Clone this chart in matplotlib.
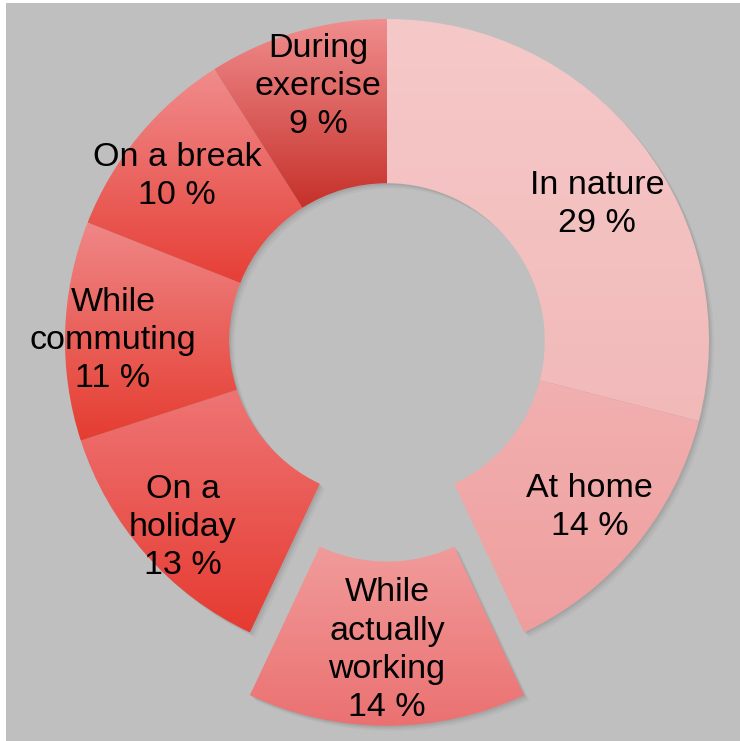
import numpy as np
import matplotlib
matplotlib.use('Agg')
import matplotlib.pyplot as plt
from matplotlib.colors import LinearSegmentedColormap
from matplotlib.patches import Wedge

labels = ['In nature', 'At home', 'While\nactually\nworking', 'On a\nholiday',
          'While\ncommuting', 'On a break', 'During\nexercise']
values = [29, 14, 14, 13, 11, 10, 9]
explode = [0, 0, 0.195, 0, 0, 0, 0]
# (top colour, bottom colour) of each slice's vertical gradient
top_colors = ['#f6c9c9', '#f2b0b0', '#f19b9b', '#ee7575', '#ef8787', '#f08c8c', '#f08e8e']
bottom_colors = ['#f2b9b9', '#ef9e9e', '#eb7171', '#e63a30', '#e53c30', '#e63f36', '#c6302a']
# label centre relative to each slice's centre, in units of the radius
label_dx = [0.652, 0.630, 0.0, -0.634, -0.851, -0.652, -0.214]
label_dy = [0.423, -0.518, -0.765, -0.580, 0.002, 0.510, 0.790]

plt.rcParams['font.family'] = ['Liberation Sans', 'DejaVu Sans']

fig = plt.figure(figsize=(7.40, 7.41), dpi=100, facecolor='white')
ax = fig.add_axes([6 / 740, 0, 734 / 740, 738 / 741])

hole = 0.49
wedges, _ = ax.pie(values, radius=1, startangle=90, counterclock=False,
                   explode=explode, wedgeprops=dict(width=1 - hole, linewidth=0))

ax.set_frame_on(True)
ax.set_facecolor('#bfbfbf')
for s in ax.spines.values():
    s.set_visible(False)

grad = np.linspace(0, 1, 256).reshape(-1, 1)
for i, w in enumerate(wedges):
    # soft drop shadow
    for k, a in [(0.016, 0.08), (0.010, 0.12), (0.005, 0.15)]:
        sh = Wedge((w.center[0] + k, w.center[1] - k), w.r, w.theta1, w.theta2,
                   width=w.width, facecolor='#707070', alpha=a, linewidth=0, zorder=1)
        ax.add_patch(sh)
    w.set_facecolor('none')
    w.set_zorder(2)
    ext = w.get_path().get_extents(w.get_patch_transform())
    cmap = LinearSegmentedColormap.from_list(f'g{i}', [top_colors[i], bottom_colors[i]])
    im = ax.imshow(grad, cmap=cmap, aspect='auto', origin='upper',
                   extent=[ext.x0, ext.x1, ext.y0, ext.y1], zorder=2,
                   interpolation='bilinear')
    im.set_clip_path(w)
    cx, cy = w.center
    ax.text(cx + label_dx[i], cy + label_dy[i],
            f'{labels[i]}\n{values[i]} %', ha='center', va='center',
            fontsize=24.5, linespacing=1.3, color='black', zorder=3)

R = 322
ax.set_xlim((6 - 387) / R, (740 - 387) / R)
ax.set_ylim(-(741 - 341) / R, (341 - 3) / R)
ax.set_aspect('auto')
ax.set_xticks([])
ax.set_yticks([])

plt.savefig('out.png', dpi=100, facecolor='white')
